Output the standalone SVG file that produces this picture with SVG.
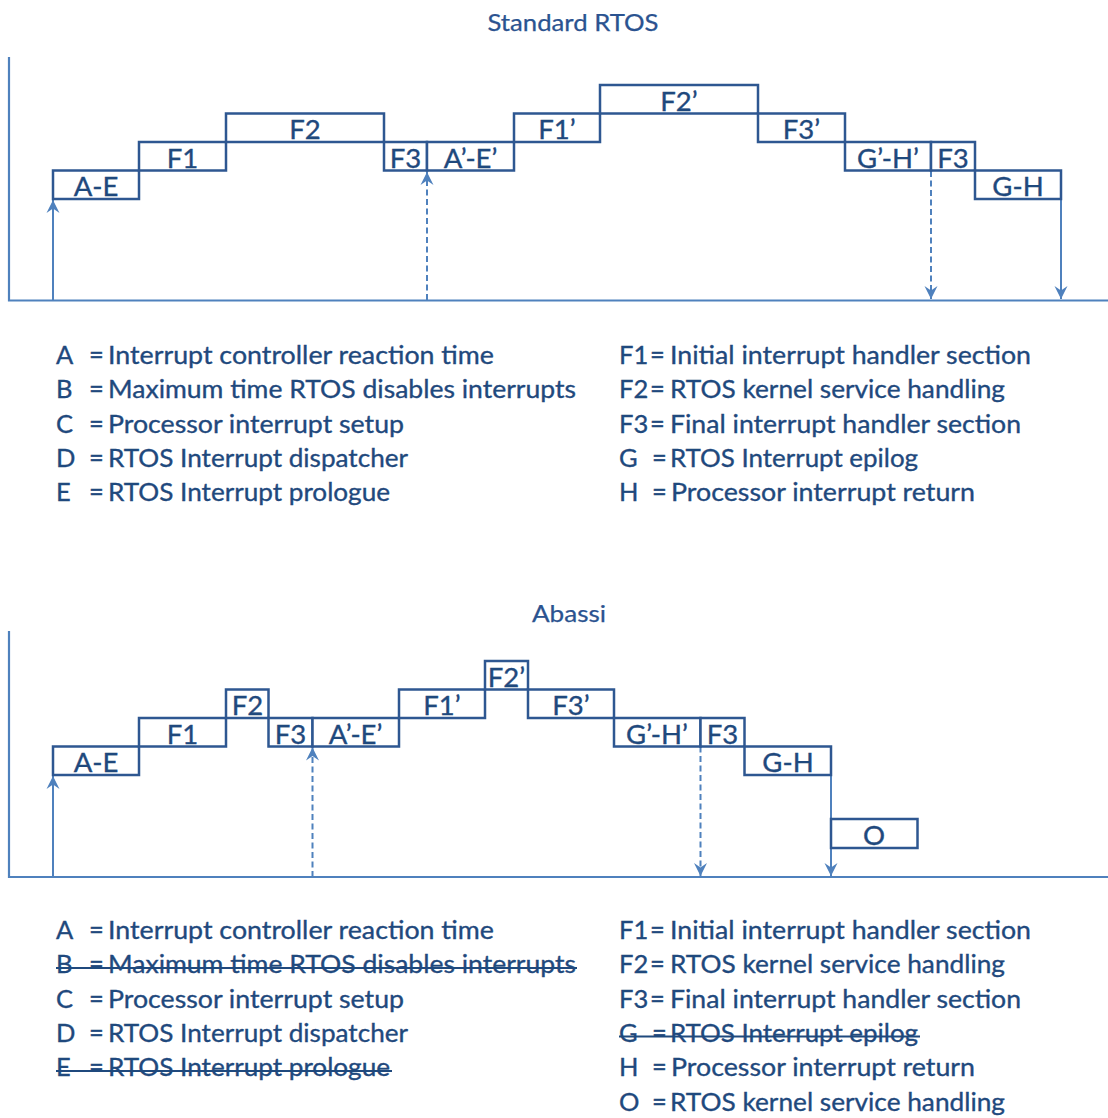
<svg xmlns="http://www.w3.org/2000/svg" width="1108" height="1118" viewBox="0 0 1108 1118">
<style>
  .bg{fill:#ffffff}
  .box rect{fill:#ffffff;stroke:#2E5791;stroke-width:2.5}
  .box text{font-family:Lato,"Noto Sans","DejaVu Sans",sans-serif;font-size:27.5px;fill:#1F497D;stroke:#1F497D;stroke-width:0.35;text-anchor:middle}
  .axis{stroke:#4F81BD;stroke-width:2.2;fill:none}
  .arr{stroke:#4F81BD;stroke-width:2;fill:none}
  .dash{stroke-dasharray:6 3.5}
  .title{font-family:Lato,"Noto Sans","DejaVu Sans",sans-serif;font-size:23px;fill:#2B5390;stroke:#2B5390;stroke-width:0.25;text-anchor:middle}
  .leg{font-family:Lato,"Noto Sans","DejaVu Sans",sans-serif;font-size:25.5px;fill:#1F497D;stroke:#1F497D;stroke-width:0.35}
  .strike{stroke:#1F497D;stroke-width:2}
</style>
<defs>
  <marker id="ah" viewBox="-14 -7 15 14" refX="0" refY="0" markerWidth="15" markerHeight="14" markerUnits="userSpaceOnUse" orient="auto">
    <path d="M0,0 L-13,-6.5 L-8.5,0 L-13,6.5 Z" fill="#4F81BD"/>
  </marker>
</defs>
<rect class="bg" x="0" y="0" width="1108" height="1118"/>

<!-- ===== Standard RTOS ===== -->
<text class="title" x="573" y="31" textLength="171" lengthAdjust="spacingAndGlyphs">Standard RTOS</text>
<g id="axes-top">
  <path class="axis" d="M9,57 L9,300.5 L1108,300.5"/>
</g>
<g id="connectors-top">
  <line class="arr" x1="53" y1="300" x2="53" y2="200" marker-end="url(#ah)"/>
  <line class="arr dash" x1="427" y1="300" x2="427" y2="172" marker-end="url(#ah)"/>
  <line class="arr dash" x1="931" y1="171" x2="931" y2="299" marker-end="url(#ah)"/>
  <line class="arr" x1="1061" y1="199" x2="1061" y2="299" marker-end="url(#ah)"/>
</g>
<g id="t-AE" class="box"><rect x="53" y="170.5" width="86" height="28.5"/><text x="96" y="196">A-E</text></g>
<g id="t-F1" class="box"><rect x="139" y="142" width="87" height="28.5"/><text x="182.5" y="167.5">F1</text></g>
<g id="t-F2" class="box"><rect x="226" y="113.5" width="158" height="28.5"/><text x="305" y="139">F2</text></g>
<g id="t-F3a" class="box"><rect x="384" y="142" width="43" height="28.5"/><text x="405.5" y="167.5">F3</text></g>
<g id="t-AEp" class="box"><rect x="427" y="142" width="87" height="28.5"/><text x="470.5" y="167.5">A’-E’</text></g>
<g id="t-F1p" class="box"><rect x="514" y="113.5" width="86" height="28.5"/><text x="557" y="139">F1’</text></g>
<g id="t-F2p" class="box"><rect x="600" y="85" width="158" height="28.5"/><text x="679" y="110.5">F2’</text></g>
<g id="t-F3p" class="box"><rect x="758" y="113.5" width="87" height="28.5"/><text x="801.5" y="139">F3’</text></g>
<g id="t-GHp" class="box"><rect x="845" y="142" width="86" height="28.5"/><text x="888" y="167.5">G’-H’</text></g>
<g id="t-F3b" class="box"><rect x="931" y="142" width="44" height="28.5"/><text x="953" y="167.5">F3</text></g>
<g id="t-GH" class="box"><rect x="975" y="170.5" width="86" height="28.5"/><text x="1018" y="196">G-H</text></g>

<g id="legend-top" class="leg">
  <text x="56" y="364">A</text><text x="89" y="364">=</text><text x="108" y="364" textLength="386" lengthAdjust="spacingAndGlyphs">Interrupt controller reaction time</text>
  <text x="56" y="398">B</text><text x="89" y="398">=</text><text x="108" y="398" textLength="468" lengthAdjust="spacingAndGlyphs">Maximum time RTOS disables interrupts</text>
  <text x="56" y="433">C</text><text x="89" y="433">=</text><text x="108" y="433" textLength="296" lengthAdjust="spacingAndGlyphs">Processor interrupt setup</text>
  <text x="56" y="467">D</text><text x="89" y="467">=</text><text x="108" y="467" textLength="300" lengthAdjust="spacingAndGlyphs">RTOS Interrupt dispatcher</text>
  <text x="56" y="501">E</text><text x="89" y="501">=</text><text x="108" y="501" textLength="282" lengthAdjust="spacingAndGlyphs">RTOS Interrupt prologue</text>

  <text x="619" y="364">F1</text><text x="650" y="364">=</text><text x="670" y="364" textLength="361" lengthAdjust="spacingAndGlyphs">Initial interrupt handler section</text>
  <text x="619" y="398">F2</text><text x="650" y="398">=</text><text x="670" y="398" textLength="335" lengthAdjust="spacingAndGlyphs">RTOS kernel service handling</text>
  <text x="619" y="433">F3</text><text x="650" y="433">=</text><text x="670" y="433" textLength="351" lengthAdjust="spacingAndGlyphs">Final interrupt handler section</text>
  <text x="619" y="467">G</text><text x="652" y="467">=</text><text x="670" y="467" textLength="248" lengthAdjust="spacingAndGlyphs">RTOS Interrupt epilog</text>
  <text x="619" y="501">H</text><text x="652" y="501">=</text><text x="671" y="501" textLength="304" lengthAdjust="spacingAndGlyphs">Processor interrupt return</text>
</g>

<!-- ===== Abassi ===== -->
<text class="title" x="569" y="622" textLength="74" lengthAdjust="spacingAndGlyphs">Abassi</text>
<g id="axes-bottom">
  <path class="axis" d="M9,631 L9,877 L1108,877"/>
</g>
<g id="connectors-bottom">
  <line class="arr" x1="53" y1="877" x2="53" y2="776" marker-end="url(#ah)"/>
  <line class="arr dash" x1="312.5" y1="877" x2="312.5" y2="747.5" marker-end="url(#ah)"/>
  <line class="arr dash" x1="700.5" y1="746.5" x2="700.5" y2="876" marker-end="url(#ah)"/>
  <line class="arr" x1="831" y1="775" x2="831" y2="876" marker-end="url(#ah)"/>
</g>
<g id="b-AE" class="box"><rect x="53" y="746.5" width="86" height="28.5"/><text x="96" y="772">A-E</text></g>
<g id="b-F1" class="box"><rect x="139" y="718" width="87" height="28.5"/><text x="182.5" y="743.5">F1</text></g>
<g id="b-F2" class="box"><rect x="226" y="689.5" width="42.5" height="28.5"/><text x="247.5" y="715">F2</text></g>
<g id="b-F3a" class="box"><rect x="268.5" y="718" width="44" height="28.5"/><text x="290.5" y="743.5">F3</text></g>
<g id="b-AEp" class="box"><rect x="312.5" y="718" width="86.5" height="28.5"/><text x="355.5" y="743.5">A’-E’</text></g>
<g id="b-F1p" class="box"><rect x="399" y="689.5" width="86" height="28.5"/><text x="442" y="715">F1’</text></g>
<g id="b-F2p" class="box"><rect x="485" y="661" width="43" height="28.5"/><text x="506.5" y="686.5">F2’</text></g>
<g id="b-F3p" class="box"><rect x="528" y="689.5" width="86" height="28.5"/><text x="571" y="715">F3’</text></g>
<g id="b-GHp" class="box"><rect x="614" y="718" width="86.5" height="28.5"/><text x="657" y="743.5">G’-H’</text></g>
<g id="b-F3b" class="box"><rect x="700.5" y="718" width="44" height="28.5"/><text x="722.5" y="743.5">F3</text></g>
<g id="b-GH" class="box"><rect x="744.5" y="746.5" width="86.5" height="28.5"/><text x="788" y="772">G-H</text></g>
<g id="b-O" class="box"><rect x="831" y="819" width="86.5" height="29"/><text x="874" y="844.5">O</text></g>

<g id="legend-bottom" class="leg">
  <text x="56" y="939">A</text><text x="89" y="939">=</text><text x="108" y="939" textLength="386" lengthAdjust="spacingAndGlyphs">Interrupt controller reaction time</text>
  <text x="56" y="973">B</text><text x="89" y="973">=</text><text x="108" y="973" textLength="468" lengthAdjust="spacingAndGlyphs">Maximum time RTOS disables interrupts</text>
  <text x="56" y="1008">C</text><text x="89" y="1008">=</text><text x="108" y="1008" textLength="296" lengthAdjust="spacingAndGlyphs">Processor interrupt setup</text>
  <text x="56" y="1042">D</text><text x="89" y="1042">=</text><text x="108" y="1042" textLength="300" lengthAdjust="spacingAndGlyphs">RTOS Interrupt dispatcher</text>
  <text x="56" y="1076">E</text><text x="89" y="1076">=</text><text x="108" y="1076" textLength="282" lengthAdjust="spacingAndGlyphs">RTOS Interrupt prologue</text>

  <text x="619" y="939">F1</text><text x="650" y="939">=</text><text x="670" y="939" textLength="361" lengthAdjust="spacingAndGlyphs">Initial interrupt handler section</text>
  <text x="619" y="973">F2</text><text x="650" y="973">=</text><text x="670" y="973" textLength="335" lengthAdjust="spacingAndGlyphs">RTOS kernel service handling</text>
  <text x="619" y="1008">F3</text><text x="650" y="1008">=</text><text x="670" y="1008" textLength="351" lengthAdjust="spacingAndGlyphs">Final interrupt handler section</text>
  <text x="619" y="1042">G</text><text x="652" y="1042">=</text><text x="670" y="1042" textLength="248" lengthAdjust="spacingAndGlyphs">RTOS Interrupt epilog</text>
  <text x="619" y="1076">H</text><text x="652" y="1076">=</text><text x="671" y="1076" textLength="304" lengthAdjust="spacingAndGlyphs">Processor interrupt return</text>
  <text x="619" y="1111">O</text><text x="652" y="1111">=</text><text x="670" y="1111" textLength="335" lengthAdjust="spacingAndGlyphs">RTOS kernel service handling</text>
</g>
<g id="strikes">
  <line class="strike" x1="56" y1="968" x2="577" y2="968"/>
  <line class="strike" x1="56" y1="1071" x2="392" y2="1071"/>
  <line class="strike" x1="619" y1="1036.5" x2="920" y2="1036.5"/>
</g>
</svg>
